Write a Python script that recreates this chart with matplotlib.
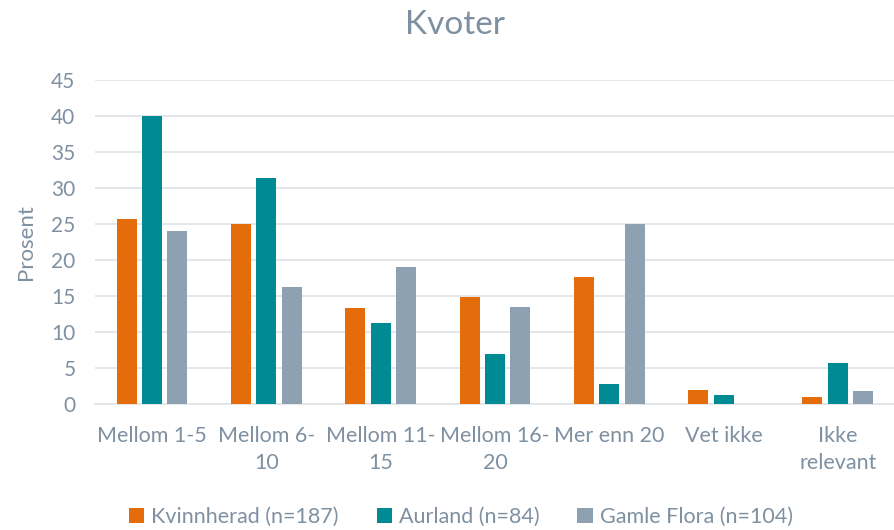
import matplotlib
matplotlib.use("Agg")
import matplotlib.pyplot as plt
import numpy as np

categories = ["Mellom 1-5", "Mellom 6-\n10", "Mellom 11-\n15", "Mellom 16-\n20", "Mer enn 20", "Vet ikke", "Ikke\nrelevant"]
series_names = ["Kvinnherad (n=187)", "Aurland (n=84)", "Gamle Flora (n=104)"]
kvinnherad = [25.7, 25.0, 13.3, 14.9, 17.6, 2.0, 1.0]
aurland = [40.0, 31.4, 11.3, 7.0, 2.8, 1.3, 5.7]
gamle_flora = [24.0, 16.2, 19.1, 13.5, 25.0, 0.0, 1.8]
yticks = [0, 5, 10, 15, 20, 25, 30, 35, 40, 45]

colors = ["#E46C0A", "#008B94", "#8EA1B2"]
text_color = "#7F90A1"
grid_color = "#E1E5E9"

plt.rcParams['font.family'] = ['Lato', 'DejaVu Sans']

fig = plt.figure(figsize=(8.95, 5.30), dpi=100)
ax = fig.add_axes([0.106, 0.2377, 0.894, 0.6113])

x = np.arange(len(categories))
width = 0.175
step = 0.222
for i, (vals, name, c) in enumerate(zip([kvinnherad, aurland, gamle_flora], series_names, colors)):
    ax.bar(x + (i - 1) * step, vals, width, color=c, label=name, zorder=3)

ax.set_xlim(-0.5, len(categories) - 0.5)
ax.set_ylim(0, 45)
ax.set_yticks(yticks)
ax.yaxis.grid(True, color=grid_color, linewidth=1.3, zorder=0)
for s in ["top", "right", "left"]:
    ax.spines[s].set_visible(False)
ax.spines["bottom"].set_color(grid_color)
ax.spines["bottom"].set_linewidth(1.3)
ax.tick_params(axis="both", length=0, colors=text_color)
ax.tick_params(axis="y", labelsize=15, pad=14)
ax.tick_params(axis="x", labelsize=15.5, pad=16)
ax.set_xticks(x)
ax.set_xticklabels(categories, linespacing=1.45)
ax.set_ylabel("Prosent", color=text_color, fontsize=16, labelpad=11)
fig.text(0.508, 0.952, "Kvoter", ha="center", va="center", fontsize=24, color=text_color)

leg = fig.legend(loc="center", bbox_to_anchor=(0.515, 0.025), ncol=3, frameon=False,
                 fontsize=15.5, handlelength=0.7, handleheight=0.7, handletextpad=0.35,
                 columnspacing=1.75, labelcolor=text_color)

fig.savefig("out.png", dpi=100)
